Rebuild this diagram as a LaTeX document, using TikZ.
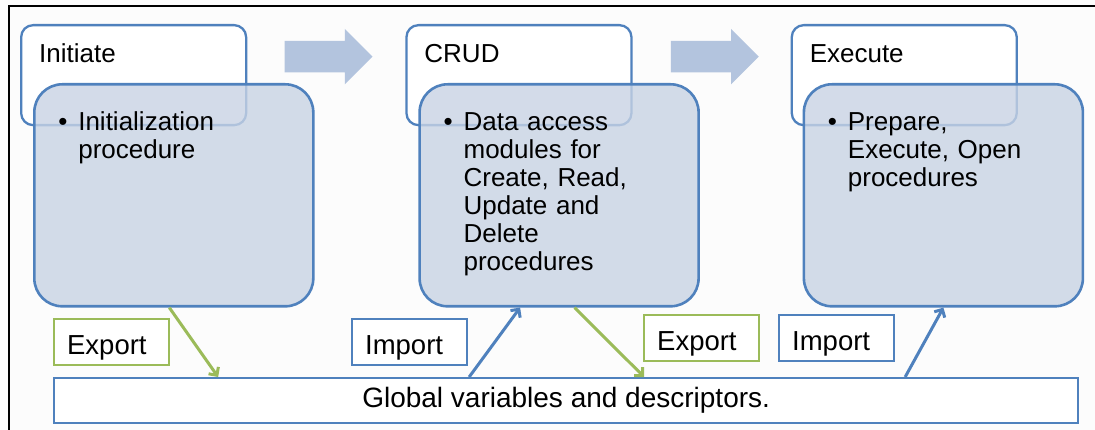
\documentclass[tikz,border=0pt]{standalone}
\usepackage{fontspec}
\setmainfont{Liberation Sans}
\usetikzlibrary{positioning,shapes.arrows,arrows.meta}
\definecolor{boxblue}{RGB}{79,129,189}
\definecolor{bodyfill}{RGB}{200,211,228}
\definecolor{flowfill}{RGB}{179,196,222}
\definecolor{exgreen}{RGB}{155,187,89}
\newcommand{\bulletlines}[1]{\makebox[20pt][l]{\textbullet}\begin{tabular}[t]{@{}l@{}}#1\end{tabular}}
\begin{document}
\begin{tikzpicture}[
        x=1pt, y=-1pt,
        titlebox/.style={draw=boxblue, line width=2.3pt, rounded corners=12pt, fill=white, anchor=north west,
            minimum width=225pt, inner xsep=18pt, inner ysep=0pt, text width=189pt, align=left,
            text height=37pt, text depth=63pt, font=\fontsize{26pt}{28pt}\selectfont},
        bodybox/.style={draw=boxblue, line width=2.6pt, rounded corners=28pt, fill=bodyfill, fill opacity=0.8,
            text opacity=1, anchor=north west, minimum width=279pt, inner xsep=24pt, inner ysep=0pt,
            text width=231pt, align=left, text height=46pt, text depth=176pt,
            font=\fontsize{26pt}{28pt}\selectfont},
        flow/.style={single arrow, fill=flowfill, draw=none, inner sep=0pt, inner ysep=15.5pt,
            single arrow head extend=12pt, single arrow head indent=0pt, minimum height=88pt, anchor=west},
        tagbox/.style={line width=2.3pt, fill=white, anchor=north west, inner xsep=13pt, inner ysep=0pt,
            text width=89pt, align=left, text height=35pt, text depth=11pt,
            font=\fontsize{27.5pt}{30pt}\selectfont},
        export/.style={tagbox, draw=exgreen},
        import/.style={tagbox, draw=boxblue},
        exportline/.style={draw=exgreen, line width=3pt, -{Straight Barb[length=6pt, width=12pt]}},
        importline/.style={draw=boxblue, line width=3pt, -{Straight Barb[length=6pt, width=12pt]}}
    ]
        \fill[white!99!black] (0,0) rectangle (1095,430);
        \useasboundingbox (0,0) rectangle (1095,430);
        \draw[line width=1.5pt] (9,430) -- (9,6) -- (1095,6);

        \node[titlebox] (init) at (20,24) {Initiate};
        \node[titlebox, right=158pt of init] (crud) {CRUD};
        \node[titlebox, right=158pt of crud] (exec) {Execute};

        \node[flow, right=37pt of init, yshift=18.5pt] (flowA) {};
        \node[flow, right=38pt of crud, yshift=18.5pt] (flowB) {};

        \node[bodybox] (initbody) at ([shift={(13,59)}]init.north west) {\bulletlines{Initialization\\procedure}};
        \node[bodybox] (crudbody) at ([shift={(13,59)}]crud.north west) {\bulletlines{Data access\\modules for\\Create, Read,\\Update and\\Delete\\procedures}};
        \node[bodybox] (execbody) at ([shift={(12,59)}]exec.north west) {\bulletlines{Prepare,\\Execute, Open\\procedures}};

        \node[draw=boxblue, line width=2.3pt, fill=white, anchor=north west, minimum width=1024pt, minimum height=45pt,
            font=\fontsize{28pt}{30pt}\selectfont] (global) at (53,377) {Global variables and descriptors.};

        \node[export] (exportA) at (53,318) {Export};
        \node[import] (importA) at (351,318) {Import};
        \node[export] (exportB) at (643,314) {Export};
        \node[import] (importB) at (778,314) {Import};

        \draw[exportline] ([xshift=-4.5pt]initbody.south) -- ([xshift=-348pt]global.north);
        \draw[importline] ([xshift=-97pt]global.north) -- ([xshift=-39pt]crudbody.south);
        \draw[exportline] ([xshift=15.5pt]crudbody.south) -- ([xshift=78pt]global.north);
        \draw[importline] ([xshift=339pt]global.north) -- (execbody.south);
    \end{tikzpicture}
\end{document}
